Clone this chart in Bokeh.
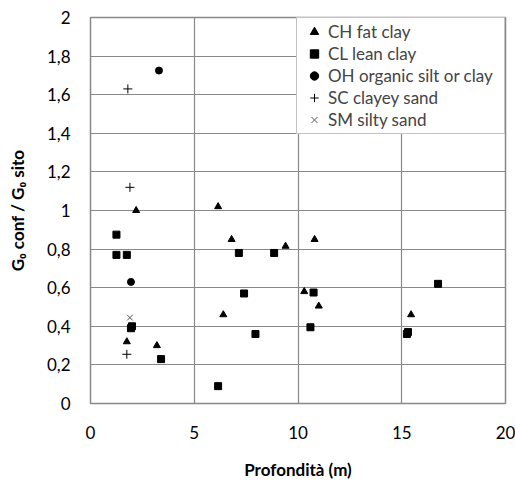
from bokeh.plotting import figure
from bokeh.models import Range1d, FixedTicker, Legend, LegendItem, CustomJSTickFormatter
from bokeh.embed import file_html
from bokeh.resources import INLINE

# --- data (depth m, G0 conf / G0 sito) ---
ch_x = [2.2, 6.15, 6.8, 9.4, 10.8, 10.3, 11.0, 6.4, 15.45, 1.75, 3.2]
ch_y = [1.0, 1.02, 0.85, 0.815, 0.85, 0.58, 0.505, 0.46, 0.46, 0.32, 0.30]

cl_x = [1.25, 1.25, 1.75, 1.95, 2.0, 3.4, 7.15, 8.85, 7.4, 10.75, 7.95, 10.6, 6.15, 15.25, 15.3, 16.75]
cl_y = [0.875, 0.77, 0.77, 0.39, 0.40, 0.23, 0.78, 0.78, 0.57, 0.575, 0.36, 0.395, 0.09, 0.36, 0.37, 0.62]

oh_x = [3.3, 1.95]
oh_y = [1.725, 0.63]

sc_x = [1.8, 1.9, 1.75]
sc_y = [1.63, 1.12, 0.255]

sm_x = [1.9]
sm_y = [0.445]

labels = ["CH fat clay", "CL lean clay", "OH organic silt or clay", "SC clayey sand", "SM silty sand"]
x_ticks = [0, 5, 10, 15, 20]
y_ticks = [0, 0.2, 0.4, 0.6, 0.8, 1.0, 1.2, 1.4, 1.6, 1.8, 2.0]
x_title = "Profondità (m)"
y_title = "G₀ conf / G₀ sito"

FONT = "Lato"
GRID = "#888888"

p = figure(width=515, height=483, output_backend="svg", toolbar_location=None,
           x_range=Range1d(0, 20), y_range=Range1d(0, 2),
           min_border_left=90, min_border_right=10, min_border_top=17, min_border_bottom=80)
p.background_fill_color = "white"
p.border_fill_color = "white"
p.outline_line_color = GRID
p.outline_line_width = 1.5

fmt = CustomJSTickFormatter(code="return String(Math.round(tick*10)/10).replace('.', ',');")

for ax in (p.xaxis[0], p.yaxis[0]):
    ax.axis_line_color = None
    ax.major_tick_line_color = None
    ax.minor_tick_line_color = None
    ax.major_tick_out = 0
    ax.major_tick_in = 0
    ax.minor_tick_out = 0
    ax.minor_tick_in = 0
    ax.major_label_text_font = FONT
    ax.major_label_text_font_size = "17px"
    ax.major_label_text_color = "black"
    ax.axis_label_text_font = FONT
    ax.axis_label_text_font_style = "bold"
    ax.axis_label_text_font_size = "17px"
    ax.axis_label_text_color = "black"
    ax.formatter = fmt

p.xaxis.ticker = FixedTicker(ticks=x_ticks)
p.yaxis.ticker = FixedTicker(ticks=y_ticks)
p.xaxis.major_label_standoff = 22
p.yaxis.major_label_standoff = 20
p.xaxis.axis_label = x_title
p.yaxis.axis_label = y_title
p.xaxis.axis_label_standoff = 17
p.yaxis.axis_label_standoff = 16

p.xgrid.grid_line_color = GRID
p.ygrid.grid_line_color = GRID
p.xgrid.grid_line_width = 1.2
p.ygrid.grid_line_width = 1.2

r_ch = p.scatter(ch_x, ch_y, marker="triangle", size=7, fill_color="black", line_color="black")
r_cl = p.scatter(cl_x, cl_y, marker="square", size=7, fill_color="black", line_color="black")
r_oh = p.scatter(oh_x, oh_y, marker="circle", size=7, fill_color="black", line_color="black")
r_sc = p.scatter(sc_x, sc_y, marker="cross", size=9, line_color="black", line_width=1)
r_sm = p.scatter(sm_x, sm_y, marker="x", size=8, line_color="#555555", line_width=1)

legend = Legend(items=[LegendItem(label=l, renderers=[r]) for l, r in
                       zip(labels, [r_ch, r_cl, r_oh, r_sc, r_sm])],
                location="top_right", margin=0, padding=3, spacing=1,
                glyph_width=28, glyph_height=21, label_height=21, label_standoff=0,
                label_width=173,
                label_text_font=FONT, label_text_font_size="17px",
                border_line_color=GRID, border_line_width=1.5,
                background_fill_color="white", background_fill_alpha=1.0)
p.add_layout(legend, "center")

open("out.html", "w").write(file_html(p, INLINE))
